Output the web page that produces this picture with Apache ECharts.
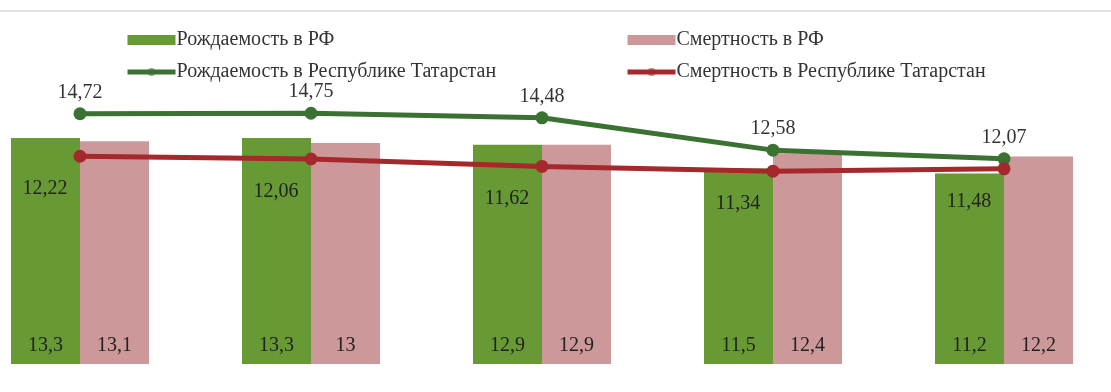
<!DOCTYPE html>
<html lang="ru">
<head>
    <meta charset="UTF-8">
    <title>Рождаемость и смертность</title>
    <script src="https://cdn.jsdelivr.net/npm/echarts@6/dist/echarts.min.js"></script>
</head>
<body style="margin:0;background:#fff;">
<div id="chart" style="width: 1111px;height: 392px;"></div>

<script type="text/javascript">
    // годы на картинке не подписаны, поэтому категории без подписей
    var categories = ['1', '2', '3', '4', '5'];
    var birthRF = [13.3, 13.3, 12.9, 11.5, 11.2];
    var deathRF = [13.1, 13, 12.9, 12.4, 12.2];
    var birthRT = [14.72, 14.75, 14.48, 12.58, 12.07];
    var deathRT = [12.22, 12.06, 11.62, 11.34, 11.48];

    var fmt = function (p) {
        return String(p.value).replace('.', ',');
    };
    var font = '"Liberation Serif", "DejaVu Serif", serif';
    var legendText = {fontFamily: font, fontSize: 20, color: '#333', padding: [0, 0, 0, -4]};

    var myChart = echarts.init(document.getElementById('chart'));

    var option = {
        animation: false,
        textStyle: {fontFamily: font},
        graphic: [
            {
                type: 'line',
                shape: {x1: 0, y1: 11, x2: 1111, y2: 11},
                style: {stroke: '#d9d9d9', lineWidth: 1.5}
            }
        ],
        legend: [
            {
                orient: 'vertical',
                left: 120,
                top: 25,
                itemWidth: 48,
                itemHeight: 10,
                itemGap: 12,
                textStyle: legendText,
                data: [
                    {name: 'Рождаемость в РФ', icon: 'rect'},
                    {name: 'Рождаемость в Республике Татарстан', lineStyle: {width: 5}, itemStyle: {opacity: 0.6}}
                ]
            },
            {
                orient: 'vertical',
                left: 620,
                top: 25,
                itemWidth: 48,
                itemHeight: 10,
                itemGap: 12,
                textStyle: legendText,
                data: [
                    {name: 'Смертность в РФ', icon: 'rect'},
                    {name: 'Смертность в Республике Татарстан', lineStyle: {width: 5}, itemStyle: {opacity: 0.6}}
                ]
            }
        ],
        grid: {
            left: -35.5,
            right: -8.5,
            top: 24,
            bottom: 28,
            outerBoundsMode: 'none'
        },
        xAxis: {
            type: 'category',
            data: categories,
            show: false
        },
        yAxis: {
            type: 'value',
            min: 0,
            max: 20,
            show: false
        },
        series: [
            {
                name: 'Рождаемость в РФ',
                type: 'bar',
                barWidth: 69,
                barGap: '0%',
                itemStyle: {color: '#679a35'},
                label: {
                    show: true,
                    position: 'insideBottom',
                    distance: 8,
                    fontSize: 20,
                    color: '#222',
                    formatter: fmt
                },
                data: birthRF
            },
            {
                name: 'Смертность в РФ',
                type: 'bar',
                barWidth: 69,
                barGap: '0%',
                itemStyle: {color: '#cd9899'},
                label: {
                    show: true,
                    position: 'insideBottom',
                    distance: 8,
                    fontSize: 20,
                    color: '#222',
                    formatter: fmt
                },
                data: deathRF
            },
            {
                name: 'Рождаемость в Республике Татарстан',
                type: 'line',
                symbol: 'circle',
                symbolSize: 13,
                itemStyle: {color: '#3a7232'},
                lineStyle: {color: '#3a7232', width: 5},
                label: {
                    show: true,
                    position: 'top',
                    distance: 5,
                    fontSize: 20,
                    color: '#333',
                    formatter: fmt
                },
                data: birthRT
            },
            {
                name: 'Смертность в Республике Татарстан',
                type: 'line',
                symbol: 'circle',
                symbolSize: 13,
                itemStyle: {color: '#a4282c'},
                lineStyle: {color: '#a4282c', width: 5},
                label: {
                    show: true,
                    position: 'bottom',
                    distance: 5,
                    offset: [-35, 11],
                    fontSize: 20,
                    color: '#222',
                    formatter: fmt
                },
                data: deathRT
            }
        ]
    };

    myChart.setOption(option);
</script>
</body>
</html>
